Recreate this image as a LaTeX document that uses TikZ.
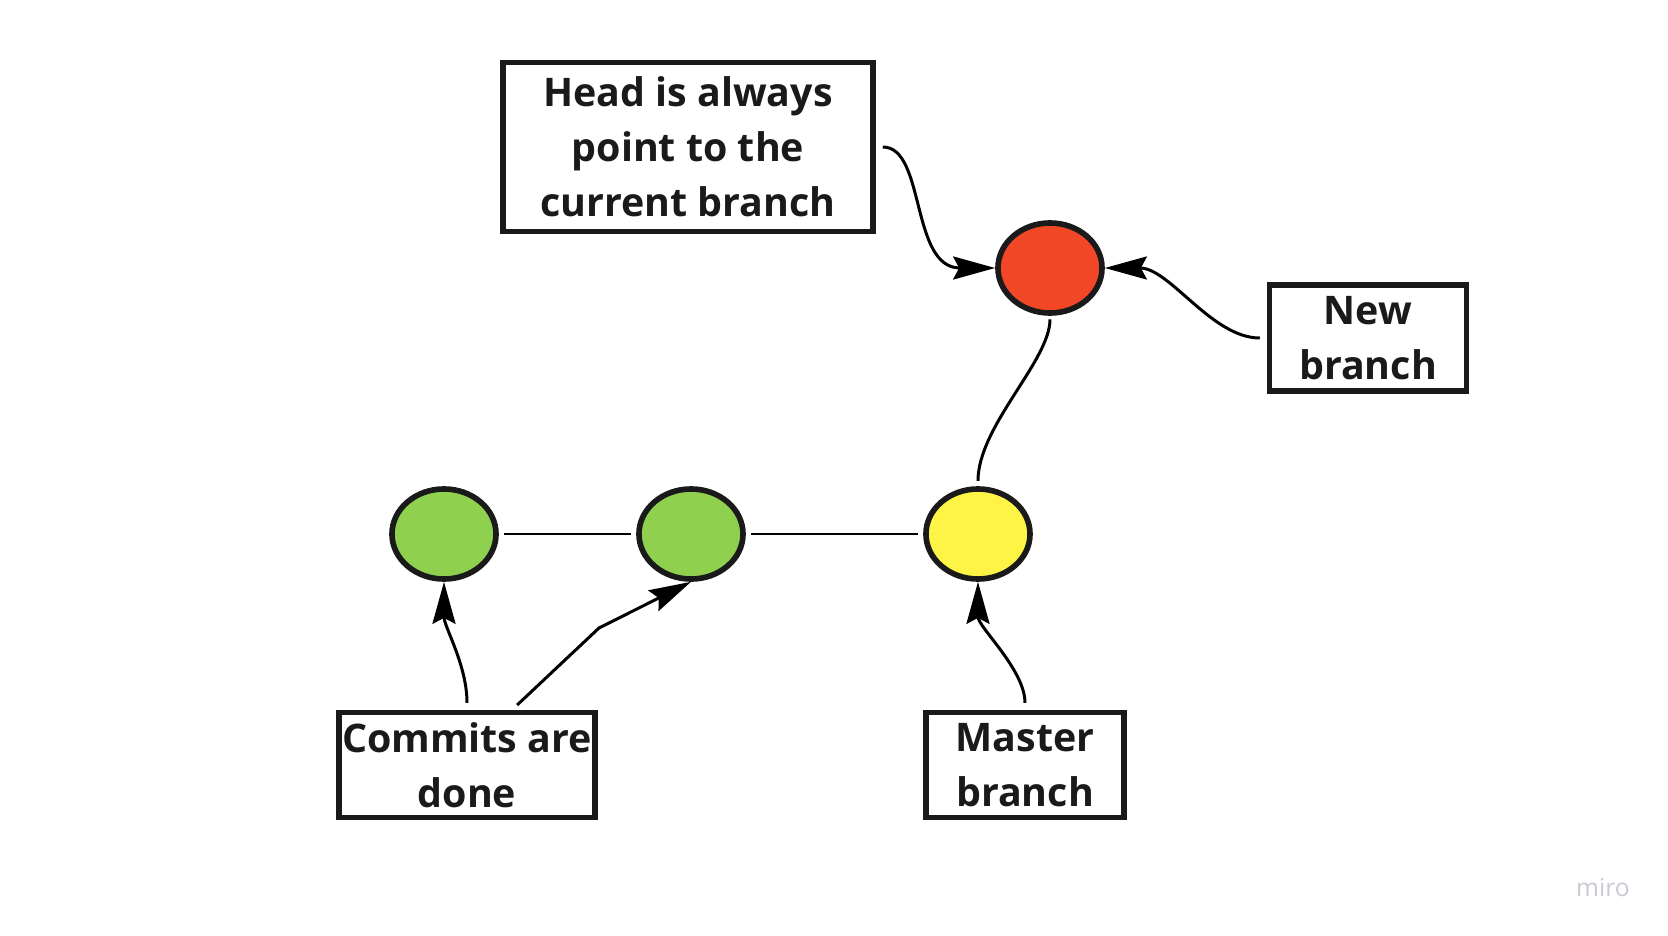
\documentclass[tikz,border=0pt]{standalone}
\usepackage{fontspec}
\setmainfont{Open Sans}
\usetikzlibrary{shapes.geometric,arrows.meta}
\definecolor{inkgray}{HTML}{1A1A1A}
\definecolor{commitred}{HTML}{F24726}
\definecolor{commitgreen}{HTML}{8FD14F}
\definecolor{commityellow}{HTML}{FEF445}
\definecolor{mirogray}{HTML}{C9C9D6}

\begin{document}
\begin{tikzpicture}[x=0.01cm, y=-0.01cm,
  labelbox/.style={draw=inkgray, line width=1.5pt, fill=white, align=center, inner sep=0pt, text=inkgray, font=\fontsize{11.2}{15.6}\selectfont\bfseries},
  commit/.style={ellipse, draw=inkgray, line width=1.6pt, minimum width=1.04cm, minimum height=0.90cm, inner sep=0pt},
  pointer/.style={line width=0.85pt, -{Stealth[length=4.2mm,width=2.3mm,inset=0.6mm]}},
  link/.style={line width=0.85pt}]
\useasboundingbox[fill=white] (0,0) rectangle (1668,936);
\node[labelbox, minimum width=3.70cm, minimum height=1.69cm] (head) at (688,147) {Head is always\\point to the\\current branch};
\node[labelbox, minimum width=1.97cm, minimum height=1.06cm] (newbranch) at (1368,338) {New\\branch};
\node[labelbox, minimum width=2.56cm, minimum height=1.05cm] (commits) at (467,765) {Commits are\\done};
\node[labelbox, minimum width=1.98cm, minimum height=1.05cm] (master) at (1025,765) {Master\\branch};
\node[commit, fill=commitred] (red) at (1050,268) {};
\node[commit, fill=commitgreen] (greenA) at (444,534) {};
\node[commit, fill=commitgreen] (greenB) at (691,534) {};
\node[commit, fill=commityellow] (yellow) at (978,534) {};
\coordinate (bend) at (599,628);
\draw[link, shorten <=1.5pt, shorten >=1.5pt] (greenA) -- (greenB);
\draw[link, shorten <=1.5pt, shorten >=1.5pt] (greenB) -- (yellow);
\draw[link, shorten <=1pt, shorten >=1.5pt] (red.south) .. controls +(0,45) and +(0,-60) .. (yellow.north);
\draw[pointer, shorten <=2pt] (head.east) .. controls +(50,0) and +(-85,0) .. (red.west);
\draw[pointer, shorten <=2pt] (newbranch.west) .. controls +(-55,0) and +(65,0) .. (red.east);
\draw[pointer, shorten <=2pt] (commits.north) .. controls +(0,-45) and +(0,45) .. (greenA.south);
\draw[pointer, shorten <=2pt] ([xshift=0.45cm]commits.north) -- (bend) -- (greenB.south);
\draw[pointer, shorten <=2pt] (master.north) .. controls +(0,-40) and +(0,45) .. (yellow.south);
\node[text=mirogray, font=\fontsize{7}{8}\selectfont] (miro) at (1603,888) {miro};
\end{tikzpicture}
\end{document}
